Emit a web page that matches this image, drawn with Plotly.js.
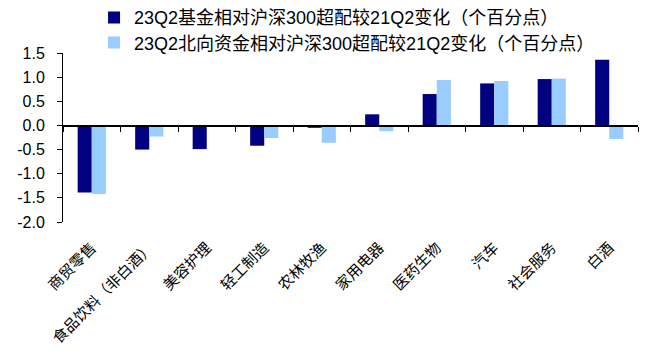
<!DOCTYPE html>
<html>
<head>
<meta charset="utf-8">
<script src="https://cdn.plot.ly/plotly-3.0.1.min.js"></script>
<style>html,body{margin:0;padding:0;background:#fff;}#chart{width:646px;height:363px;}</style>
</head>
<body>
<div id="chart"></div>
<script>
const categories = ['商贸零售','食品饮料（非白酒）','美容护理','轻工制造','农林牧渔','家用电器','医药生物','汽车','社会服务','白酒'];
const fundChange = [-1.39, -0.50, -0.49, -0.42, -0.05, 0.23, 0.65, 0.87, 0.96, 1.36];
const northChange = [-1.42, -0.23, 0.00, -0.26, -0.36, -0.12, 0.94, 0.92, 0.97, -0.28];
const seriesNames = ['23Q2基金相对沪深300超配较21Q2变化（个百分点）','23Q2北向资金相对沪深300超配较21Q2变化（个百分点）'];
const yTickValues = [-2.0, -1.5, -1.0, -0.5, 0.0, 0.5, 1.0, 1.5];
const yTickLabels = ['-2.0','-1.5','-1.0','-0.5','0.0','0.5','1.0','1.5'];

const yRange = [-2.0, 1.5];
const zeroFrac = (0 - yRange[0]) / (yRange[1] - yRange[0]);

const traces = [
  {type:'bar', x:categories, y:fundChange, name:seriesNames[0], marker:{color:'#000080'}, legend:'legend', hoverinfo:'skip'},
  {type:'bar', x:categories, y:northChange, name:seriesNames[1], marker:{color:'#99CCFF'}, legend:'legend2', hoverinfo:'skip'},
  {type:'scatter', x:categories, y:categories.map(()=>0), xaxis:'x2', mode:'markers', marker:{opacity:0}, showlegend:false, hoverinfo:'skip'}
];

const legendFont = {family:'"Liberation Sans", "Noto Sans CJK SC", sans-serif', size:18, color:'#000'};

const layout = {
  width:646, height:363,
  margin:{l:63, r:8, t:53, b:141, autoexpand:false},
  paper_bgcolor:'#fff', plot_bgcolor:'#fff',
  font:{family:'"Liberation Sans", Arial, "Noto Sans CJK SC", sans-serif', color:'#000'},
  barmode:'group', bargap:0.51, bargroupgap:0,
  xaxis:{type:'category', range:[-0.5, 9.5], showline:false, ticks:'', showgrid:false, zeroline:false,
    tickangle:-45, ticklabelstandoff:13, automargin:false,
    tickfont:{family:'"Noto Sans CJK SC", sans-serif', size:15, color:'#000'}},
  xaxis2:{type:'category', overlaying:'x', anchor:'free', position:zeroFrac, side:'bottom', range:[-0.5, 9.5],
    showline:true, linecolor:'#000', linewidth:1.5, ticks:'outside', ticklen:5, tickcolor:'#000', tickwidth:1,
    tickson:'boundaries', showticklabels:false, showgrid:false, zeroline:false},
  yaxis:{range:yRange, tickvals:yTickValues, ticktext:yTickLabels, showline:true, linecolor:'#000', linewidth:1,
    ticks:'outside', ticklen:5, tickcolor:'#000', showgrid:false, zeroline:false, ticklabelstandoff:9, automargin:false,
    tickfont:{family:'"Liberation Sans", Arial, sans-serif', size:16, color:'#000'}},
  legend:{x:0.054, y:1.318, xanchor:'left', yanchor:'top', bgcolor:'rgba(0,0,0,0)', itemwidth:30, font:legendFont},
  legend2:{x:0.054, y:1.17, xanchor:'left', yanchor:'top', bgcolor:'rgba(0,0,0,0)', itemwidth:30, font:legendFont},
  showlegend:true
};

Plotly.newPlot('chart', traces, layout, {staticPlot:true, displayModeBar:false});
</script>
</body>
</html>
